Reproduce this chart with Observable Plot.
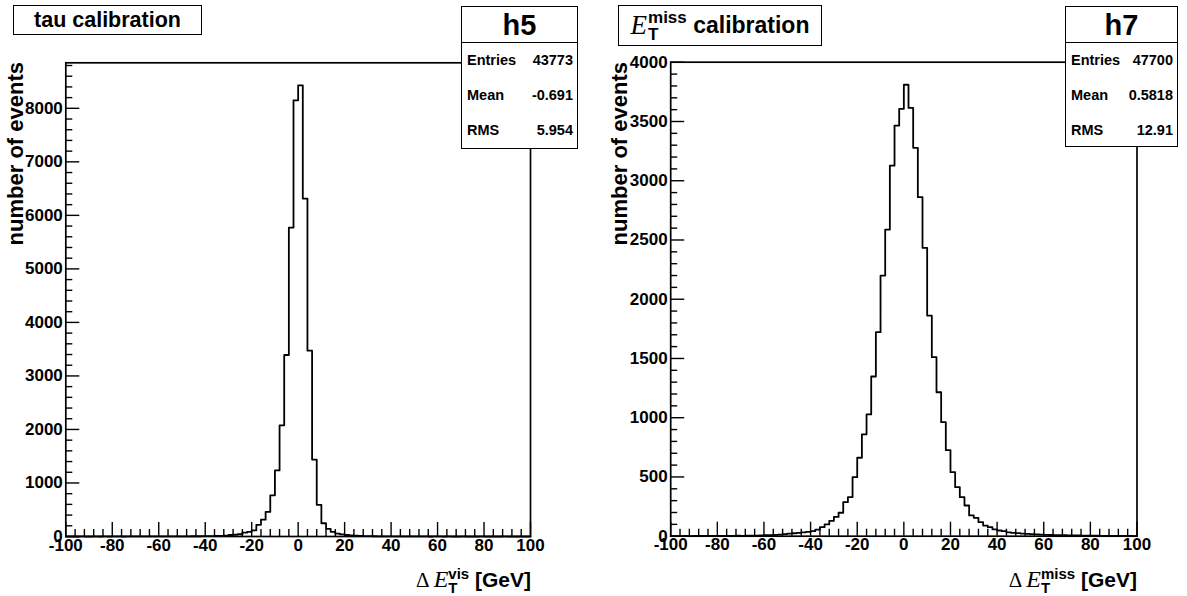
<!DOCTYPE html>
<html><head><meta charset="utf-8">
<script src="https://cdn.jsdelivr.net/npm/d3@7"></script>
<script src="https://cdn.jsdelivr.net/npm/@observablehq/plot@0.6"></script>
<style>
body{margin:0;background:#fff;}
#wrap{position:relative;width:1187px;height:596px;overflow:hidden;font-family:"Liberation Sans",Arial,sans-serif;font-weight:bold;color:#000;background:#fff;}
.panel{position:absolute;top:0;}
.box{position:absolute;background:#fff;border:1.5px solid #000;box-sizing:border-box;}
.ttl{display:flex;align-items:center;justify-content:center;white-space:nowrap;}
.stats .hd{height:36px;border-bottom:1.5px solid #000;box-sizing:border-box;font-size:29px;line-height:36px;text-align:center;}
.stats .row{display:flex;justify-content:space-between;font-size:14.5px;height:35px;line-height:35px;padding:0 4px 0 5px;}
.serif{font-family:"Liberation Serif","Times New Roman",serif;font-weight:normal;}
.it{font-style:italic;}
.stk{display:inline-flex;flex-direction:column;align-items:flex-start;line-height:0.95;}
.xt{position:absolute;white-space:nowrap;font-size:21px;line-height:1;}
.yt{position:absolute;white-space:nowrap;font-size:22px;line-height:1;width:320px;text-align:right;transform-origin:0 0;transform:rotate(-90deg);}
</style>
</head><body>
<div id="wrap"></div>
<script>
// ---- data ----
const binLow = -100, binWidth = 2;
const tauCounts = [
  0,0,0,1,0,0,1,0,1,0, 1,1,0,1,1,1,2,1,2,2,
  2,3,2,3,4,3,4,5,5,6, 7,8,10,12,14, 28,33,42,72,88,
  115,218,315,460,770,1235,2078,3391,5772,8149,
  8429,6313,3471,1437,592,248,144,88,55,40,
  28,20,14,10,8,6,5,4,3,3,
  2,2,2,1,2,1,1,1,0,1,
  1,0,1,0,0,1,0,0,0,1, 0,0,0,0,1,0,0,0,0,0
];
const metCounts = [
  1,1,1,2,1,2,2,2,3,3,
  2,3,3,3,4,3,4,4,5,6,
  8,9,12,14,18,22,25,28,33,36,
  42,55,76,99,130,163,198,287,329,498,
  662,860,1028,1348,1722,2200,2588,3128,3466,3607,
  3810,3615,3278,2861,2434,1862,1511,1215,962,726,
  540,414,329,259,175,155,118,90,76,57,
  48,42,33,28,26,22,20,18,15,13,
  11,10,9,8,8,7,6,6,5,5,
  4,4,3,3,3,2,2,2,2,1
];
const xTickLabels = [-100,-80,-60,-40,-20,0,20,40,60,80,100];
const tauYTickLabels = [0,1000,2000,3000,4000,5000,6000,7000,8000];
const metYTickLabels = [0,500,1000,1500,2000,2500,3000,3500,4000];
const statNames = ["Entries","Mean","RMS"];
const tauStatValues = ["43773","-0.691","5.954"];
const metStatValues = ["47700","0.5818","12.91"];

// ---- helpers ----
function stepData(counts){
  const pts = counts.map((c,i)=>({x: binLow + i*binWidth, y: c}));
  pts.push({x: binLow + counts.length*binWidth, y: counts[counts.length-1]});
  return pts;
}
function panel({counts, yLabels, yMinorStep, left, width, mL, mR, mT, mB}){
  const height = 596;
  const yMax = 1.05*d3.max(counts);
  const fw = width - mL - mR, fh = height - mT - mB;
  const majX = 14*yMax/fh, minX = 7*yMax/fh;   // tick length (px -> y units)
  const majY = 14*200/fw, minY = 7*200/fw;      // tick length (px -> x units)
  const xMinor = d3.range(-100, 100.01, 4).filter(v => v % 20 !== 0);
  const yMajorStep = yLabels[1]-yLabels[0];
  const yMinor = d3.range(0, yMax, yMinorStep).filter(v => Math.abs(v % yMajorStep) > 1e-6);
  const font = {fontFamily:"Liberation Sans, Arial, sans-serif", fontWeight:"bold", fontSize:17, fill:"black"};
  const yfont = {fontFamily:"Liberation Sans Narrow, Liberation Sans, Arial, sans-serif", fontWeight:"bold", fontSize:17, fill:"black"};
  const svg = Plot.plot({
    width, height, marginLeft:mL, marginRight:mR, marginTop:mT, marginBottom:mB,
    x:{domain:[-100,100], axis:null},
    y:{domain:[0,yMax], axis:null},
    style:{background:"white", overflow:"visible"},
    marks:[
      Plot.ruleX(xTickLabels, {x:d=>d, y1:0, y2:majX, stroke:"black", strokeWidth:1.4}),
      Plot.ruleX(xMinor, {x:d=>d, y1:0, y2:minX, stroke:"black", strokeWidth:1.4}),
      Plot.ruleY(yLabels, {y:d=>d, x1:-100, x2:-100+majY, stroke:"black", strokeWidth:1.4}),
      Plot.ruleY(yMinor, {y:d=>d, x1:-100, x2:-100+minY, stroke:"black", strokeWidth:1.4}),
      Plot.line(stepData(counts), {x:"x", y:"y", curve:"step-after", stroke:"black", strokeWidth:1.8}),
      Plot.frame({stroke:"black", strokeWidth:1.7}),
      Plot.text(xTickLabels, {x:d=>d, y:0, text:d=>String(d), lineAnchor:"top", dy:2, textAnchor:"middle", ...font}),
      Plot.text(yLabels, {x:-100, y:d=>d, text:d=>String(d), textAnchor:"end", lineAnchor:"middle", dx:-3, ...yfont})
    ]
  });
  svg.classList.add("panel");
  svg.style.left = left + "px";
  return svg;
}
const wrap = document.getElementById("wrap");
wrap.appendChild(panel({counts:tauCounts, yLabels:tauYTickLabels, yMinorStep:200, left:0, width:594, mL:65.3, mR:64, mT:62.3, mB:60}));
wrap.appendChild(panel({counts:metCounts, yLabels:metYTickLabels, yMinorStep:100, left:594, width:593, mL:76.2, mR:50.5, mT:61.7, mB:60.3}));

function addHTML(html){ const t=document.createElement("div"); t.innerHTML=html; while(t.firstChild) wrap.appendChild(t.firstChild); }
function statsBox(name, values, l, t, w, h){
  let rows = statNames.map((n,i)=>`<div class="row"><span>${n}</span><span>${values[i]}</span></div>`).join("");
  return `<div class="box stats" style="left:${l}px;top:${t}px;width:${w}px;height:${h}px"><div class="hd">${name}</div>${rows}</div>`;
}
addHTML(`<div class="box ttl" style="left:13px;top:5px;width:189px;height:30px;font-size:21.5px">tau calibration</div>`);
addHTML(`<div class="box ttl" style="left:618px;top:5px;width:204px;height:41px;font-size:23px"><span class="serif it" style="font-size:27px;margin-right:1px">E</span><span class="stk" style="font-size:17px;margin-top:2px"><span>miss</span><span>T</span></span><span>&nbsp;calibration</span></div>`);
addHTML(statsBox("h5", tauStatValues, 461, 6, 117, 143));
addHTML(statsBox("h7", metStatValues, 1065, 6, 113, 141));
addHTML(`<div class="xt" style="right:${1187-531}px;top:567px"><span class="serif">Δ </span><span class="serif it" style="font-size:24px">E</span><span class="stk" style="font-size:15px;vertical-align:8px"><span>vis</span><span>T</span></span><span>&nbsp;[GeV]</span></div>`);
addHTML(`<div class="xt" style="right:${1187-1137}px;top:567px"><span class="serif">Δ </span><span class="serif it" style="font-size:24px">E</span><span class="stk" style="font-size:15px;vertical-align:8px"><span>miss</span><span>T</span></span><span>&nbsp;[GeV]</span></div>`);
addHTML(`<div class="yt" style="left:5px;top:${62+320}px">number of events</div>`);
addHTML(`<div class="yt" style="left:609px;top:${62+320}px">number of events</div>`);
</script>
</body></html>
